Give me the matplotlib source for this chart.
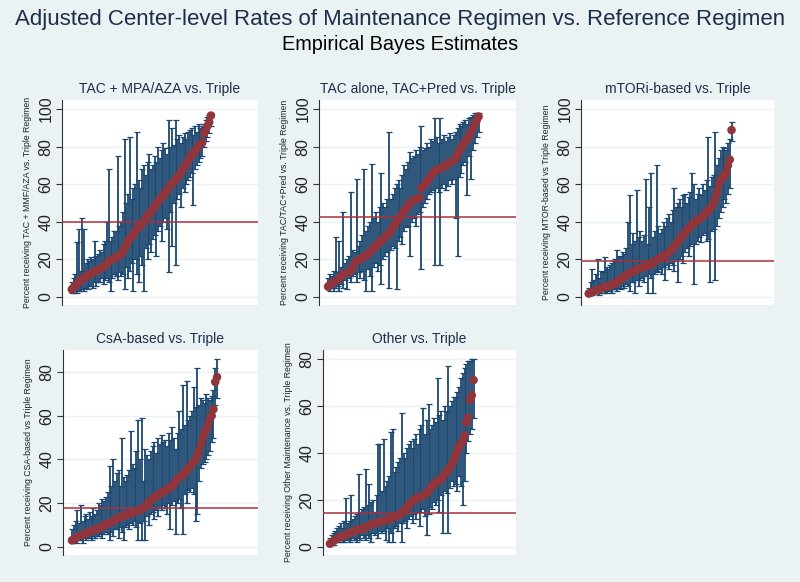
import matplotlib.pyplot as plt
import numpy as np

plt.rcParams['font.family'] = ['Liberation Sans', 'DejaVu Sans']

# ---- data: sorted center estimates with lower / upper limits ----
tac_mpa_est = [4, 5, 6, 7, 8, 9, 9.5, 10, 11, 11.5, 12, 12.5, 13, 13.5, 14, 14.5,
               15, 15.5, 16, 17, 18, 19, 19.5, 20, 20.5, 21, 21.5, 22, 23, 24, 26, 28, 30,
               31, 32, 33.5, 35, 36, 37, 38, 39.5, 40.5, 42, 43, 44.5, 45.5, 47, 48, 49.5,
               51, 52, 53, 54.5, 55.5, 56.5, 58, 59.5, 60.5, 61.5, 62.5, 63.5, 65, 66.5,
               68, 69.5, 71, 72.5, 74, 75.5, 77, 78, 79, 80.5, 81.5, 82, 87, 89, 91, 93, 96.5]
tac_mpa_lo = [2, 2, 3, 2, 3, 3, 4, 3, 5, 4, 6, 6, 5, 8, 6, 8, 8, 10, 7, 9, 10, 8, 3, 10, 12,
              11, 9, 13, 11, 12, 4, 16, 10, 14, 18, 3, 20, 12, 8, 22, 17, 3, 26, 20,
              28, 24, 31, 33, 22, 35, 38, 30, 40, 42, 36, 13, 45, 27, 50, 17, 52, 55, 48,
              58, 56, 60, 62, 64, 66, 49, 68, 70, 72, 74, 75, 80, 83, 85, 87, 91]
tac_mpa_hi = [8, 10, 12, 29, 36, 14, 42, 36, 18, 20, 19, 21, 20, 30, 22, 23, 25, 24, 28, 30,
              40, 68, 30, 32, 35, 35, 75, 38, 40, 45, 84, 50, 55, 85, 52, 58, 60, 88,
              62, 58, 68, 70, 65, 72, 76, 68, 70, 75, 72, 80, 74, 78, 82, 79, 76,
              94, 80, 90, 81, 94, 84, 86, 82, 85, 87, 84, 88, 89, 90, 86, 91, 88, 92, 90,
              91, 92, 94, 96, 97, 98]

tac_alone_est = [5.5, 6.5, 7, 8, 8.5, 9, 10, 11, 12, 12.5, 13, 13.5, 14, 16, 18, 19, 19.5, 20.5,
                 21, 21.5, 22, 23, 24, 25, 26, 27, 28, 29, 30, 31, 32, 33, 34, 35.5, 37, 38.5,
                 40, 41.5, 43, 44.5, 46, 47, 48.5, 50, 51, 51.5, 52, 52.5, 53, 58, 59,
                 60, 61.5, 63, 64.5, 66, 67, 67.5, 68, 68.5, 69, 69.5, 70, 71, 71.5, 72, 72.5,
                 74, 76, 78, 79.5, 81, 82.5, 84, 85.5, 88, 90, 92, 94, 96]
tac_alone_lo = [4, 3, 5, 3, 5, 6, 3, 7, 5, 9, 4, 10, 8, 11, 12, 8, 13, 10, 14, 9, 3, 15, 11,
                3, 16, 18, 14, 17, 7, 20, 22, 24, 5, 25, 27, 26, 4, 30, 32, 28, 35, 37, 38, 22,
                40, 42, 38, 44, 45, 15, 48, 50, 52, 55, 56, 57, 17, 58, 56, 17, 58, 60, 57,
                59, 62, 60, 63, 42, 22, 64, 66, 70, 72, 54, 75, 63, 78, 82, 85, 88]
tac_alone_hi = [10, 12, 11, 14, 32, 13, 30, 16, 45, 18, 20, 22, 56, 25, 24, 63, 27, 30,
                33, 68, 35, 38, 40, 71, 42, 45, 40, 48, 66, 50, 48, 52, 88, 52, 55, 58,
                60, 62, 58, 65, 70, 68, 72, 77, 74, 75, 78, 76, 80, 91, 78, 79, 82, 80, 84,
                83, 95, 85, 82, 95, 84, 86, 83, 85, 87, 84, 86, 88, 90, 92, 91, 93, 94, 92, 95,
                96, 97, 98, 98, 98]

mtor_est = [1.8, 2.2, 2.6, 3, 3.5, 3.8, 4.1, 4.5, 4.8, 5.2, 5.5, 5.8, 6.2, 6.6, 7,
            7.4, 8, 8.8, 9.5, 10.2, 10.8, 11.5, 12.2, 12.8, 13.3, 13.8, 14.2, 14.6, 15, 15.3,
            15.6, 16, 16.3, 16.6, 17, 17.5, 18.3, 19, 19.6, 20.2, 20.8, 21.3, 21.8, 22.3, 23,
            23.8, 24.8, 25.8, 27, 28.2, 29.4, 30.5, 31.8, 33, 34.5, 35.5, 36.5, 37.5, 38.5, 39.3,
            40, 40.8, 41.5, 42.2, 43, 44, 45, 46, 47, 48.5, 50, 53, 56, 60, 62.5,
            63.5, 65, 66, 70, 73, 88.8]
mtor_lo = [1, 1, 1, 2, 2, 2, 1, 2, 3, 2, 2, 3, 3, 2, 4, 4, 3, 5, 4, 6, 5, 7, 6, 3, 8,
           8, 2, 9, 6, 9, 10, 8, 11, 2, 12, 10, 2, 12, 14, 13, 15, 12, 16, 9, 17,
           15, 18, 17, 14, 19, 8, 20, 22, 18, 24, 26, 22, 27, 28, 7, 28, 30, 32, 29, 33,
           34, 30, 31, 8, 35, 36, 9, 38, 42, 45, 48, 52, 50, 55, 58, 83]
mtor_hi = [5, 8, 15, 9, 12, 20, 10, 14, 13, 21, 16, 15, 17, 18, 19, 20, 25, 22, 21, 24,
           23, 26, 40, 54, 28, 34, 30, 57, 32, 35, 30, 33, 63, 28, 48, 66, 32, 35, 70, 38,
           34, 36, 40, 38, 42, 44, 40, 46, 58, 48, 50, 52, 48, 54, 55, 50, 53, 56, 66, 60,
           52, 55, 58, 54, 60, 57, 62, 85, 59, 64, 65, 88, 70, 74, 78, 80, 79, 78, 82, 84, 93]

csa_est = [3, 3.5, 4, 4.5, 5, 5.3, 5.6, 6, 6.3, 6.6, 7, 7.3, 7.6, 8, 8.3, 8.6, 9, 9.4, 9.8, 10.2,
           10.6, 11, 11.5, 12, 12.5, 13, 13.3, 13.6, 14, 14.3, 14.6, 14.9, 15.2, 15.5, 15.8,
           16.1, 16.4, 16.7, 17, 17.4, 17.8, 18.5, 19.5, 20.5, 21.3, 22, 22.6, 23.2, 23.8, 24.3,
           24.8, 25.3, 25.8, 26.3, 26.8, 27.3, 28, 29, 30, 31, 31.8, 32.5, 33.2, 34, 35,
           36, 37, 38, 39, 40, 42, 44, 47, 50, 52, 54, 56, 59, 60, 63, 75.5, 77.7]
csa_lo = [2, 2, 3, 2, 3, 3, 2, 4, 3, 4, 4, 3, 5, 4, 5, 5, 6, 4, 6, 7, 6, 3, 7, 5, 8,
          8, 4, 9, 7, 3, 9, 10, 8, 11, 10, 12, 9, 3, 11, 3, 12, 3, 14, 10, 15,
          16, 13, 17, 14, 18, 17, 19, 18, 15, 20, 8, 19, 21, 6, 20, 22, 18, 6, 24, 20,
          26, 25, 27, 24, 12, 15, 30, 36, 38, 39, 40, 42, 44, 48, 50, 65, 68]
csa_hi = [8, 10, 12, 17, 11, 19, 12, 14, 15, 13, 16, 14, 18, 15, 17, 20, 19, 22, 21, 23,
          25, 37, 28, 40, 30, 34, 35, 28, 50, 32, 30, 33, 35, 53, 38, 36, 44, 58, 40, 59,
          30, 45, 42, 40, 44, 46, 48, 43, 50, 47, 51, 48, 49, 46, 52, 49, 55, 50, 45, 52,
          62, 54, 74, 56, 76, 58, 60, 62, 73, 64, 82, 65, 68, 67, 66, 70, 68, 67, 69, 72, 82, 86]

other_est = [1.4, 2, 2.6, 3.2, 3.7, 4, 4.3, 4.6, 5, 5.3, 5.6, 6, 6.3, 6.7, 7,
             7.2, 7.4, 7.6, 7.8, 8.1, 8.4, 8.8, 9.2, 9.6, 10, 10.2, 10.4, 10.6, 10.8, 11,
             11.2, 11.4, 11.6, 11.9, 12.2, 12.5, 12.8, 13.1, 13.5, 14, 14.5, 15, 16, 17, 18,
             19, 19.5, 20, 20.5, 21, 21.3, 21.7, 22, 22.5, 23, 24, 25, 26, 27, 27.5,
             28, 28.4, 29, 30, 31, 32, 33, 34, 35.5, 37, 39, 41, 43, 44, 45,
             47.5, 53, 55, 62.5, 64.5, 71]
other_lo = [1, 1, 1, 2, 2, 2, 3, 2, 2, 3, 3, 2, 3, 4, 3, 2, 4, 3, 5, 4, 3, 5, 4, 2, 6,
            5, 6, 4, 7, 6, 7, 3, 8, 2, 6, 2, 8, 9, 7, 10, 2, 10, 11, 8, 12,
            13, 10, 14, 12, 15, 9, 15, 16, 13, 5, 14, 17, 16, 19, 18, 20, 15, 22, 6, 24,
            23, 6, 25, 28, 26, 27, 24, 30, 26, 18, 28, 40, 45, 48, 50, 55]
other_hi = [4, 5, 6, 7, 8, 9, 10, 8, 11, 21, 10, 11, 22, 12, 13, 14, 31, 15, 16, 17,
            33, 18, 27, 19, 20, 15, 22, 44, 44, 24, 46, 26, 28, 30, 49, 50, 32, 34, 36, 38,
            57, 40, 38, 42, 44, 45, 42, 46, 48, 44, 50, 52, 59, 48, 54, 61, 50, 52, 55, 53,
            72, 56, 58, 54, 60, 58, 77, 60, 62, 64, 64, 66, 68, 72, 74, 76, 78, 79, 79, 80, 80]

titles = ['TAC + MPA/AZA vs. Triple', 'TAC alone, TAC+Pred vs. Triple', 'mTORi-based vs. Triple',
          'CsA-based vs. Triple', 'Other vs. Triple']
ylabels = ['Percent receiving TAC + MMF/AZA vs. Triple Regimen',
           'Percent receiving TAC/TAC+Pred vs. Triple Regimen',
           'Percent receiving MTOR-based vs Triple Regimen',
           'Percent receiving CSA-based vs Triple Regimen',
           'Percent receiving Other Maintenance vs. Triple Regimen']
ref_rates = [40, 42.6, 19.2, 17.8, 14.6]
ests = [tac_mpa_est, tac_alone_est, mtor_est, csa_est, other_est]
los = [tac_mpa_lo, tac_alone_lo, mtor_lo, csa_lo, other_lo]
his = [tac_mpa_hi, tac_alone_hi, mtor_hi, csa_hi, other_hi]

# ---- layout (pixels of an 800x582 canvas) ----
W, H = 800, 582
boxes = [(62, 100, 258, 305), (319, 100, 516, 305), (581, 100, 774, 305),
         (63, 350, 258, 555), (323, 350, 516, 555)]
ylims = [(-4.3, 104.8), (-4.3, 104.8), (-4.3, 104.8), (-3.7, 90.1), (-3.4, 83.8)]
yticks = [range(0, 101, 20)] * 3 + [range(0, 81, 20)] * 2
spans = [(0.05, 0.76), (0.046, 0.81), (0.04, 0.78), (0.046, 0.79), (0.036, 0.78)]

bg = '#eaf2f3'
navy = '#1a476f'
cranberry = '#90353b'

fig = plt.figure(figsize=(8, 5.82), dpi=100, facecolor=bg)
fig.text(0.5, 1 - 19 / H, 'Adjusted Center-level Rates of Maintenance Regimen vs. Reference Regimen',
         ha='center', va='center', fontsize=16, color='#1e2d4a')
fig.text(0.5, 1 - 45 / H, 'Empirical Bayes Estimates', ha='center', va='center',
         fontsize=14.3, color='black')

for k in range(5):
    x0, y0, x1, y1 = boxes[k]
    ax = fig.add_axes([x0 / W, 1 - y1 / H, (x1 - x0) / W, (y1 - y0) / H])
    ax.set_facecolor('white')
    est = np.array(ests[k], dtype=float)
    lo = np.array(los[k], dtype=float)
    hi = np.array(his[k], dtype=float)
    x = np.arange(len(est))
    n = len(est) - 1
    p0, p1 = spans[k]
    width = n / (p1 - p0)
    ax.set_xlim(-p0 * width, -p0 * width + width)
    ax.set_ylim(*ylims[k])
    ax.set_yticks(list(yticks[k]))
    ax.grid(axis='y', color=bg, linewidth=1.0)
    ax.set_axisbelow(True)
    ax.errorbar(x, est, yerr=[est - lo, hi - est], fmt='none', ecolor=navy,
                elinewidth=1.3, capsize=2.4, capthick=0.9, zorder=2)
    ax.axhline(ref_rates[k], color='#a8323e', linewidth=1.1, zorder=3)
    ax.scatter(x, est, s=38, color=cranberry, edgecolors='none', zorder=4)
    for s in ['top', 'right', 'bottom']:
        ax.spines[s].set_visible(False)
    ax.spines['left'].set_color('#333333')
    ax.spines['left'].set_linewidth(0.8)
    ax.set_xticks([])
    ax.tick_params(axis='y', length=4, width=0.8, color='#333333', labelsize=11.5,
                   labelcolor='#222222', pad=2)
    for lab in ax.get_yticklabels():
        lab.set_rotation(90)
        lab.set_va('center')
    ax.set_title(titles[k], fontsize=10, color='#1e2d4a', pad=5)
    ax.set_ylabel(ylabels[k], fontsize=6.3, color='#222222', labelpad=5)

fig.savefig('out.png', dpi=100, facecolor=bg)
